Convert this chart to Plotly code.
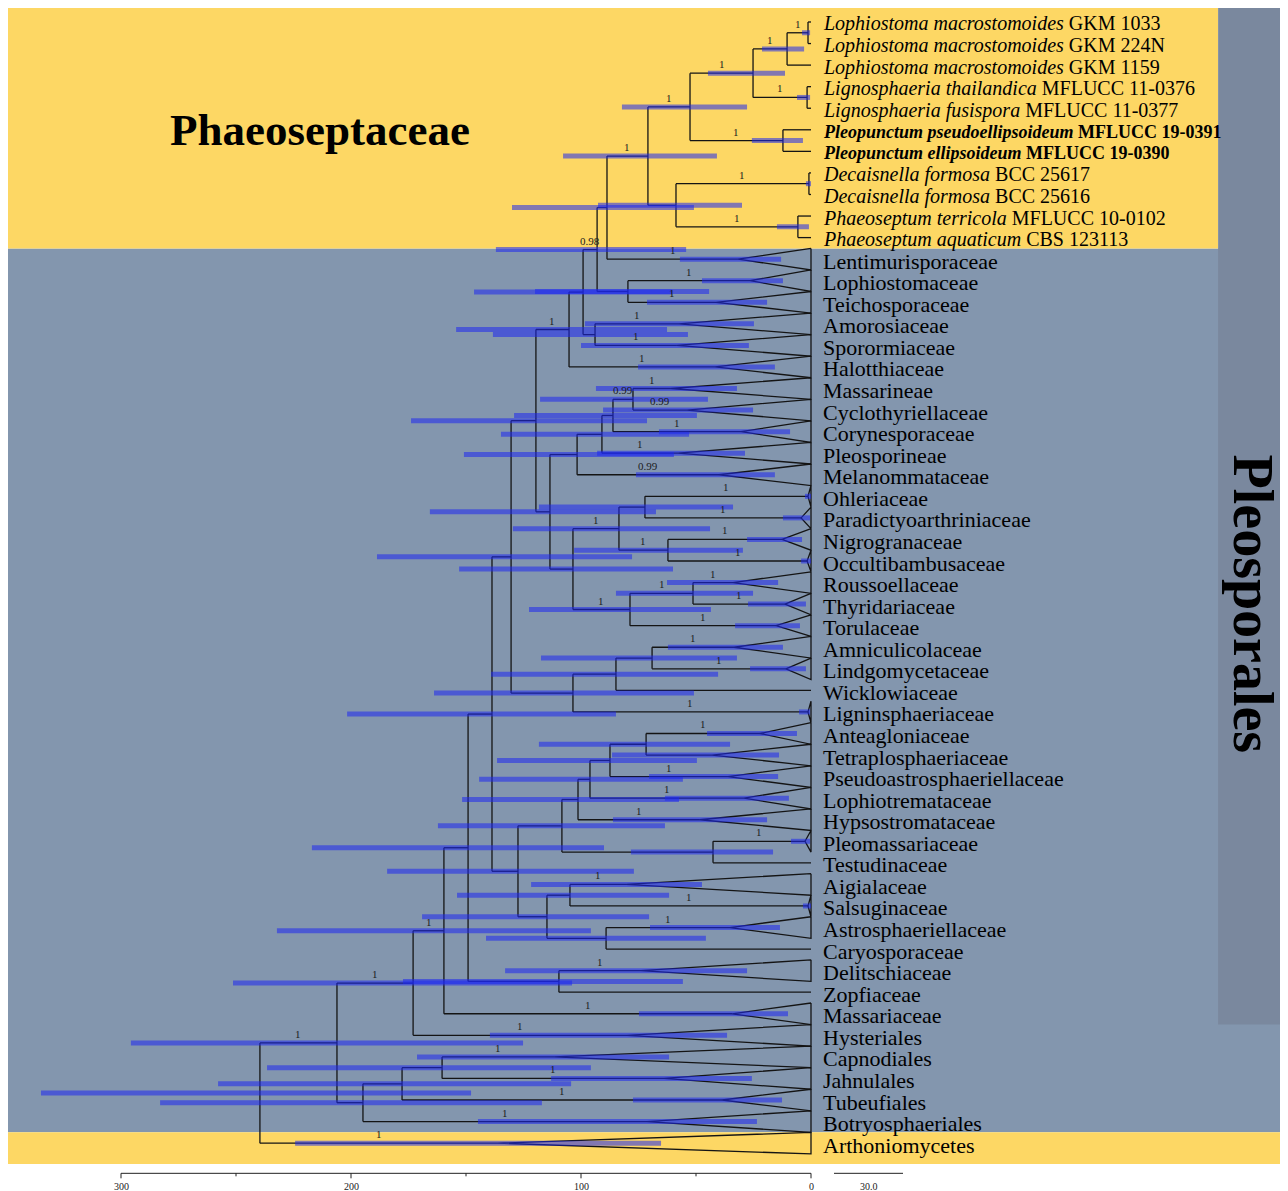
import plotly.graph_objects as go

# ---------------- DATA ----------------
TAXA = [
    "<i>Lophiostoma macrostomoides</i> GKM 1033",
    "<i>Lophiostoma macrostomoides</i> GKM 224N",
    "<i>Lophiostoma macrostomoides</i> GKM 1159",
    "<i>Lignosphaeria thailandica</i> MFLUCC 11-0376",
    "<i>Lignosphaeria fusispora</i> MFLUCC 11-0377",
    "<b><i>Pleopunctum pseudoellipsoideum</i> MFLUCC 19-0391</b>",
    "<b><i>Pleopunctum ellipsoideum</i> MFLUCC 19-0390</b>",
    "<i>Decaisnella formosa</i> BCC 25617",
    "<i>Decaisnella formosa</i> BCC 25616",
    "<i>Phaeoseptum terricola</i> MFLUCC 10-0102",
    "<i>Phaeoseptum aquaticum</i> CBS 123113",
    "Lentimurisporaceae", "Lophiostomaceae", "Teichosporaceae", "Amorosiaceae",
    "Sporormiaceae", "Halotthiaceae", "Massarineae", "Cyclothyriellaceae",
    "Corynesporaceae", "Pleosporineae", "Melanommataceae", "Ohleriaceae",
    "Paradictyoarthriniaceae", "Nigrogranaceae", "Occultibambusaceae",
    "Roussoellaceae", "Thyridariaceae", "Torulaceae", "Amniculicolaceae",
    "Lindgomycetaceae", "Wicklowiaceae", "Ligninsphaeriaceae", "Anteagloniaceae",
    "Tetraplosphaeriaceae", "Pseudoastrosphaeriellaceae", "Lophiotremataceae",
    "Hypsostromataceae", "Pleomassariaceae", "Testudinaceae", "Aigialaceae",
    "Salsuginaceae", "Astrosphaeriellaceae", "Caryosporaceae", "Delitschiaceae",
    "Zopfiaceae", "Massariaceae", "Hysteriales", "Capnodiales", "Jahnulales",
    "Tubeufiales", "Botryosphaeriales", "Arthoniomycetes",
]
HIGHLIGHT_ROWS = [5, 6]   # new Pleopunctum strains (bold)

# crown age (Mya) of collapsed clades; None = single terminal
LEAF_CROWN_AGE = [None] * 11 + [
    31.7, 26.5, 41.3, 57.4, 58.3, 41.7, 60.9, 53.9, 30.4, 57.8, 40.0,
    1.3, 4.3, 12.6, 1.7, 33.9, 11.3, 15.2, 33.5, 10.9, None, 1.3,
    22.2, 43.0, 36.1, 29.1, 48.3, 2.6, None, 80.4, 1.3, 35.2, None,
    73.9, None, 34.3, 80.0, 111.7, 63.9, 38.7, 71.3, 136.1,
]
LEAF_HPD_LOW = [None] * 11 + [
    13.0, 12.2, 19.1, 24.8, 27.0, 15.7, 32.2, 25.2, 9.1, 28.7, 15.7,
    0.0, 0.4, 3.9, 0.0, 14.3, 2.2, 4.8, 12.2, 2.2, None, 0.4,
    6.1, 13.9, 14.3, 9.6, 19.1, 0.4, None, 47.4, 0.0, 13.5, None,
    27.8, None, 10.0, 36.5, 61.7, 25.7, 12.6, 23.5, 65.2,
]
LEAF_HPD_HIGH = [None] * 11 + [
    57.0, 47.4, 71.3, 98.3, 100.0, 75.2, 93.5, 90.4, 66.1, 93.0, 76.1,
    2.6, 12.2, 27.8, 4.3, 62.6, 27.4, 33.0, 62.2, 26.5, None, 5.2,
    45.2, 86.5, 70.4, 63.5, 86.1, 8.7, None, 121.7, 3.5, 70.0, None,
    133.0, None, 74.8, 139.6, 171.3, 113.0, 77.4, 144.8, 224.3,
]
LEAF_SUPPORT = [None] * 11 + [
    "1", "1", "1", "1", "1", "1", "1", "0.99", "1", "1", "0.99",
    "1", "1", "1", "1", "1", "1", "1", "1", "1", None, "1",
    "1", None, "1", "1", "1", "1", None, "1", "1", "1", None,
    "1", None, "1", "1", "1", "1", "1", "1", "1",
]

NODE_IDS = [
    "n_lm12", "n_lm", "n_lig", "n_ll", "n_pleo", "n_llp", "n_dec", "n_pha",
    "n_dp", "n_phaeo", "n_a", "n_b", "n_c", "n_d", "n_e", "n_f", "n_g", "n_h",
    "n_i", "n_j", "n_k", "n_l", "n_m", "n_n", "n_o", "n_p", "n_q", "n_r",
    "n_s", "n_t", "n_u", "n_v", "n_w", "n_x", "n_y", "n_z", "n_aa", "n_ab",
    "n_ac", "n_ad", "n_ae", "n_af", "n_ag", "n_ah", "n_ai", "n_aj", "n_ak",
    "n_al", "n_am", "n_an", "n_ao", "n_root",
]
NODE_CHILDREN = [
    (0, 1), ("n_lm12", 2), (3, 4), ("n_lm", "n_lig"), (5, 6), ("n_ll", "n_pleo"),
    (7, 8), (9, 10), ("n_dec", "n_pha"), ("n_llp", "n_dp"), ("n_phaeo", 11),
    (12, 13), ("n_a", "n_b"), (14, 15), ("n_c", "n_d"), ("n_e", 16), (17, 18),
    ("n_g", 19), ("n_h", 20), ("n_i", 21), (22, 23), (24, 25), ("n_k", "n_l"),
    (26, 27), ("n_n", 28), ("n_m", "n_o"), ("n_j", "n_p"), ("n_f", "n_q"),
    (29, 30), ("n_s", 31), ("n_t", 32), ("n_r", "n_u"), (33, 34), ("n_w", 35),
    ("n_x", 36), ("n_y", 37), (38, 39), ("n_z", "n_aa"), (40, 41), (42, 43),
    ("n_ac", "n_ad"), ("n_ab", "n_ae"), ("n_v", "n_af"), (44, 45),
    ("n_ag", "n_ah"), ("n_ai", 46), ("n_aj", 47), (48, 49), ("n_al", 50),
    ("n_am", 51), ("n_ak", "n_an"), ("n_ao", 52),
]
NODE_AGES = [
    1.3, 10.4, 1.7, 25.2, 12.2, 52.6, 0.9, 5.7, 58.7, 70.9, 88.7, 79.6, 93.0,
    93.9, 99.1, 105.2, 77.4, 86.1, 90.9, 101.7, 72.2, 62.2, 83.5, 51.3, 78.7,
    103.5, 113.5, 119.6, 69.1, 84.8, 103.5, 130.4, 71.7, 87.4, 96.1, 101.3,
    42.6, 108.3, 104.8, 89.1, 114.8, 127.4, 138.7, 109.6, 149.1, 159.6, 173.0,
    160.4, 177.8, 194.8, 206.1, 239.6,
]
NODE_HPD_LOW = [
    0.4, 3.0, 0.4, 11.3, 3.5, 27.8, 0.0, 0.9, 30.0, 40.9, 50.9, 44.3, 54.3,
    53.5, 60.4, 62.6, 44.8, 49.6, 53.0, 59.6, 33.9, 29.6, 43.9, 25.2, 43.5,
    60.0, 67.4, 71.3, 32.2, 40.4, 50.9, 77.8, 35.2, 49.6, 55.7, 57.4,
    16.5, 63.5, 61.7, 45.7, 70.4, 77.0, 84.8, 55.7, 90.0, 95.7, 103.9,
    95.7, 104.3, 117.0, 125.2, 147.8,
]
NODE_HPD_HIGH = [
    3.9, 21.3, 6.1, 44.8, 25.7, 82.2, 2.2, 14.8, 92.6, 107.8, 130.0, 120.0,
    137.0, 138.3, 146.5, 154.3, 117.8, 129.1, 134.8, 150.9, 118.3, 103.0,
    129.6, 84.8, 122.6, 153.0, 165.7, 173.9, 117.4, 139.1, 163.9, 188.7,
    118.3, 136.5, 144.3, 151.7, 78.3, 162.2, 153.9, 141.3, 169.1, 184.3,
    201.7, 177.4, 217.0, 232.2, 251.3, 236.5, 257.8, 283.0, 295.7, 334.8,
]
NODE_SUPPORT = [
    "1", "1", "1", "1", "1", "1", "1", "1", None, "1", None, None, "0.98",
    None, None, "1", "0.99", None, None, None, None, "1", "1", "1", "1",
    None, None, None, None, None, None, None, None, None, None, None,
    None, None, None, None, None, None, None, None, None, "1", "1",
    None, None, None, "1", None,
]

AXIS_TICKS = [300, 250, 200, 150, 100, 50, 0]
AXIS_TICK_LABELS = ["300", "", "200", "", "100", "", "0"]
SCALE_BAR_LENGTH = 30.0
SCALE_BAR_START = -10.0

GROUP_TOP = "Phaeoseptaceae"
GROUP_ORDER = "Pleosporales"

# ---------------- LAYOUT CONSTANTS ----------------
FIG_W, FIG_H = 1280, 1183
X_RANGE = [349.13, -207.39]       # Mya, reversed (present on the right)
Y_RANGE = [54.22, -0.649]         # row index, top row at top
FONT = "Liberation Serif, Times New Roman, serif"
BAR_COLOR = "rgba(30,40,240,0.55)"
YELLOW = "#FDD764"
BLUEGRAY = "#8396AE"
SIDEBAR = "#7A889E"
AXIS_ROW = 53.4
SIDEBAR_EDGE = -177.0
N_PHAEO = 11
N_PLEOSPORALES = 47

node_index = {nid: k for k, nid in enumerate(NODE_IDS)}


def y_of(ref):
    if isinstance(ref, int):
        return float(ref)
    a, b = NODE_CHILDREN[node_index[ref]]
    return (y_of(a) + y_of(b)) / 2.0


def age_of(ref):
    if isinstance(ref, int):
        c = LEAF_CROWN_AGE[ref]
        return 0.0 if c is None else c
    return NODE_AGES[node_index[ref]]


parent_age = {}
for k, (a, b) in enumerate(NODE_CHILDREN):
    parent_age[a] = NODE_AGES[k]
    parent_age[b] = NODE_AGES[k]

# tree lines
lx, ly = [], []
for k, (a, b) in enumerate(NODE_CHILDREN):
    x = NODE_AGES[k]
    ya, yb = y_of(a), y_of(b)
    lx += [x, x, None, x, age_of(a), None, x, age_of(b), None]
    ly += [ya, yb, None, ya, ya, None, yb, yb, None]
for i, c in enumerate(LEAF_CROWN_AGE):
    if c is not None:
        lx += [0, c, 0, 0, None]
        ly += [i - 0.5, i, i + 0.5, i - 0.5, None]

fig = go.Figure()
fig.add_trace(go.Scatter(x=lx, y=ly, mode="lines",
                         line=dict(color="#141414", width=1.3),
                         hoverinfo="skip"))

# HPD bars (separate traces so overlaps darken)
bars = []
for k, nid in enumerate(NODE_IDS):
    bars.append((NODE_HPD_LOW[k], NODE_HPD_HIGH[k], y_of(nid)))
for i in range(len(TAXA)):
    if LEAF_HPD_LOW[i] is not None:
        bars.append((LEAF_HPD_LOW[i], LEAF_HPD_HIGH[i], float(i)))
for lo, hi, y in bars:
    fig.add_trace(go.Scatter(x=[lo, hi], y=[y, y], mode="lines",
                             line=dict(color=BAR_COLOR, width=5),
                             hoverinfo="skip"))

# axis line + scale bar
fig.add_trace(go.Scatter(x=[AXIS_TICKS[0], AXIS_TICKS[-1]], y=[AXIS_ROW, AXIS_ROW],
                         mode="lines", line=dict(color="#222", width=1),
                         hoverinfo="skip"))
fig.add_trace(go.Scatter(x=[SCALE_BAR_START, SCALE_BAR_START - SCALE_BAR_LENGTH],
                         y=[AXIS_ROW, AXIS_ROW], mode="lines",
                         line=dict(color="#222", width=1), hoverinfo="skip"))

shapes = []
# background bands
shapes.append(dict(type="rect", xref="paper", yref="y", x0=0, x1=1,
                   y0=N_PHAEO - 0.5, y1=len(TAXA) - 1.5,
                   fillcolor=BLUEGRAY, line_width=0, layer="below"))
shapes.append(dict(type="rect", xref="paper", yref="y", x0=0, x1=1,
                   y0=len(TAXA) - 1.5, y1=len(TAXA) - 0.03,
                   fillcolor=YELLOW, line_width=0, layer="below"))
shapes.append(dict(type="rect", xref="x", yref="y", x0=X_RANGE[0], x1=SIDEBAR_EDGE,
                   y0=Y_RANGE[1], y1=N_PHAEO - 0.5,
                   fillcolor=YELLOW, line_width=0, layer="below"))
shapes.append(dict(type="rect", xref="x", yref="y", x0=SIDEBAR_EDGE, x1=X_RANGE[1],
                   y0=Y_RANGE[1], y1=N_PLEOSPORALES - 0.5,
                   fillcolor=SIDEBAR, line_width=0, layer="below"))
for t, lab in zip(AXIS_TICKS, AXIS_TICK_LABELS):
    shapes.append(dict(type="line", xref="x", yref="y", ysizemode="pixel",
                       yanchor=AXIS_ROW, x0=t, x1=t, y0=0,
                       y1=-5 if lab else -3, line=dict(color="#222", width=1)))

ann = []
for i, name in enumerate(TAXA):
    if i in HIGHLIGHT_ROWS:
        size = 18
    elif i < N_PHAEO:
        size = 20
    else:
        size = 22
    ann.append(dict(x=0, y=i, text=name, xanchor="left", yanchor="middle",
                    xshift=10, yshift=-2, showarrow=False,
                    font=dict(family=FONT, size=size, color="black")))


def support_label(x, y, s):
    ann.append(dict(x=x, y=y, text=s, showarrow=False, yshift=9,
                    xanchor="center", yanchor="middle",
                    font=dict(family=FONT, size=11, color="#1c1c1c")))


for k, nid in enumerate(NODE_IDS):
    s = NODE_SUPPORT[k]
    if s and nid in parent_age:
        support_label((parent_age[nid] + NODE_AGES[k]) / 2, y_of(nid), s)
for i in range(len(TAXA)):
    s = LEAF_SUPPORT[i]
    if s and i in parent_age:
        support_label((parent_age[i] + age_of(i)) / 2, float(i), s)

for t, lab in zip(AXIS_TICKS, AXIS_TICK_LABELS):
    if lab:
        ann.append(dict(x=t, y=AXIS_ROW, text=lab, showarrow=False, yshift=-13,
                        font=dict(family=FONT, size=10, color="#222")))
ann.append(dict(x=SCALE_BAR_START - SCALE_BAR_LENGTH / 2, y=AXIS_ROW,
                text=f"{SCALE_BAR_LENGTH:.1f}", showarrow=False, yshift=-13,
                font=dict(family=FONT, size=10, color="#222")))

ann.append(dict(x=213.5, y=5.0, text=f"<b>{GROUP_TOP}</b>", showarrow=False,
                font=dict(family=FONT, size=45, color="black")))
ann.append(dict(x=-192.0, y=27.0, text=f"<b>{GROUP_ORDER}</b>", showarrow=False,
                textangle=90, font=dict(family=FONT, size=56, color="black")))

fig.update_layout(
    width=FIG_W, height=FIG_H, margin=dict(l=0, r=0, t=0, b=0),
    paper_bgcolor="white", plot_bgcolor="white", showlegend=False,
    xaxis=dict(range=X_RANGE, visible=False, fixedrange=True),
    yaxis=dict(range=Y_RANGE, visible=False, fixedrange=True),
    shapes=shapes, annotations=ann,
)
fig.write_html("out.html")
